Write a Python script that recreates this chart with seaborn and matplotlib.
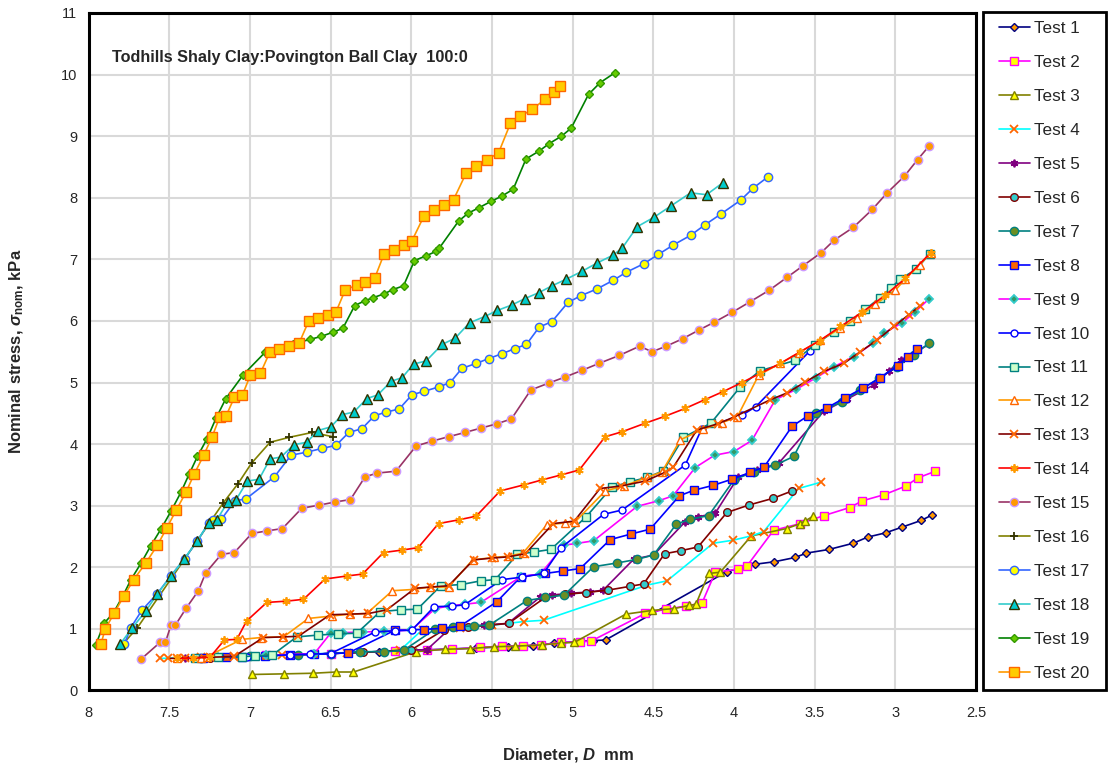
import pandas as pd
import seaborn as sns
import matplotlib.pyplot as plt
from matplotlib.patches import Rectangle

# Diameter D (mm) and nominal stress (kPa)
test1_d = [7.00, 6.60, 6.20, 5.90, 5.60, 5.40, 5.246, 5.116, 4.872, 4.796, 4.044, 3.868, 3.75, 3.62, 3.552, 3.411, 3.262, 3.172, 3.06, 2.961, 2.841, 2.772]
test1_s = [0.56, 0.59, 0.63, 0.66, 0.69, 0.71, 0.72, 0.77, 0.81, 0.82, 1.93, 2.05, 2.09, 2.16, 2.23, 2.29, 2.39, 2.49, 2.56, 2.65, 2.76, 2.85]

test2_d = [6.90, 6.50, 6.10, 5.90, 5.748, 5.571, 5.438, 5.308, 5.199, 5.075, 4.957, 4.887, 4.55, 4.42, 4.30, 4.198, 4.116, 3.978, 3.92, 3.755, 3.589, 3.442, 3.283, 3.204, 3.068, 2.934, 2.862, 2.752]
test2_s = [0.57, 0.60, 0.64, 0.66, 0.67, 0.70, 0.72, 0.73, 0.74, 0.78, 0.79, 0.80, 1.25, 1.32, 1.37, 1.42, 1.92, 1.97, 2.02, 2.60, 2.71, 2.84, 2.97, 3.08, 3.18, 3.32, 3.45, 3.56]

test3_d = [6.984, 6.788, 6.608, 6.467, 6.358, 5.97, 5.788, 5.639, 5.488, 5.356, 5.19, 5.075, 4.99, 4.67, 4.508, 4.372, 4.279, 4.236, 4.157, 4.085, 3.893, 3.672, 3.589, 3.56, 3.51]
test3_s = [0.26, 0.27, 0.28, 0.30, 0.30, 0.63, 0.67, 0.68, 0.71, 0.72, 0.74, 0.77, 0.78, 1.24, 1.30, 1.33, 1.38, 1.40, 1.90, 1.92, 2.51, 2.63, 2.71, 2.75, 2.83]

test4_d = [7.556, 7.45, 7.30, 7.10, 6.80, 6.40, 6.07, 5.93, 5.70, 5.50, 5.30, 5.18, 4.54, 4.415, 4.13, 4.006, 3.893, 3.816, 3.60, 3.463]
test4_s = [0.52, 0.53, 0.54, 0.56, 0.58, 0.61, 0.65, 0.99, 1.02, 1.06, 1.12, 1.14, 1.71, 1.78, 2.39, 2.44, 2.51, 2.58, 3.28, 3.38]

test5_d = [7.40, 7.25, 7.00, 6.60, 6.30, 6.00, 5.904, 5.75, 5.55, 5.40, 5.20, 5.128, 5.01, 4.89, 4.81, 4.622, 4.498, 4.302, 4.22, 4.116, 3.975, 3.857, 3.723, 3.445, 3.30, 3.134, 3.042, 2.965, 2.79]
test5_s = [0.53, 0.54, 0.56, 0.59, 0.62, 0.66, 0.66, 1.03, 1.06, 1.09, 1.52, 1.55, 1.58, 1.60, 1.63, 2.13, 2.20, 2.74, 2.82, 2.88, 3.46, 3.58, 3.69, 4.53, 4.73, 4.96, 5.18, 5.37, 5.62]

test6_d = [7.25, 7.00, 6.60, 6.30, 6.00, 5.80, 5.65, 5.515, 5.397, 5.17, 5.05, 4.918, 4.779, 4.647, 4.56, 4.43, 4.329, 4.223, 4.044, 3.909, 3.758, 3.64]
test6_s = [0.53, 0.56, 0.59, 0.62, 0.66, 0.98, 1.03, 1.06, 1.09, 1.51, 1.56, 1.59, 1.63, 1.69, 1.73, 2.22, 2.27, 2.33, 2.89, 3.01, 3.12, 3.24]

test7_d = [7.30, 7.00, 6.70, 6.50, 6.317, 6.168, 6.048, 5.85, 5.739, 5.614, 5.517, 5.283, 5.17, 5.052, 4.87, 4.725, 4.60, 4.498, 4.358, 4.271, 4.157, 4.00, 3.878, 3.744, 3.63, 3.49, 3.33, 3.217, 3.10, 2.99, 2.882, 2.793]
test7_s = [0.53, 0.56, 0.58, 0.60, 0.63, 0.63, 0.65, 1.00, 1.03, 1.05, 1.06, 1.46, 1.51, 1.55, 2.01, 2.07, 2.13, 2.20, 2.70, 2.78, 2.84, 3.42, 3.55, 3.66, 3.80, 4.50, 4.69, 4.88, 5.07, 5.26, 5.45, 5.64]

test8_d = [7.29, 7.15, 7.05, 6.906, 6.75, 6.60, 6.39, 6.10, 5.924, 5.81, 5.70, 5.47, 5.319, 5.17, 5.06, 4.953, 4.767, 4.639, 4.519, 4.339, 4.25, 4.13, 4.013, 3.90, 3.813, 3.64, 3.541, 3.424, 3.314, 3.20, 3.093, 2.986, 2.924, 2.866]
test8_s = [0.53, 0.54, 0.55, 0.56, 0.58, 0.59, 0.61, 0.98, 0.99, 1.01, 1.04, 1.44, 1.85, 1.90, 1.94, 1.98, 2.45, 2.54, 2.62, 3.16, 3.25, 3.33, 3.43, 3.54, 3.63, 4.29, 4.46, 4.59, 4.75, 4.91, 5.08, 5.27, 5.42, 5.54]

test9_d = [7.20, 6.90, 6.60, 6.50, 6.42, 6.296, 6.17, 6.00, 5.852, 5.769, 5.67, 5.569, 5.319, 5.20, 5.052, 4.97, 4.87, 4.60, 4.467, 4.378, 4.24, 4.12, 4.00, 3.889, 3.744, 3.614, 3.49, 3.378, 3.258, 3.138, 3.073, 2.958, 2.876, 2.791]
test9_s = [0.54, 0.57, 0.60, 0.93, 0.94, 0.95, 0.96, 0.98, 1.33, 1.37, 1.40, 1.43, 1.85, 1.89, 2.36, 2.39, 2.43, 2.99, 3.08, 3.16, 3.62, 3.82, 3.88, 4.06, 4.72, 4.89, 5.08, 5.26, 5.42, 5.64, 5.80, 5.97, 6.15, 6.36]

test10_d = [7.247, 7.185, 7.02, 6.75, 6.627, 6.50, 6.224, 6.10, 5.996, 5.858, 5.748, 5.67, 5.438, 5.314, 5.18, 5.071, 4.808, 4.694, 4.302, 4.20, 3.95, 3.864, 3.527]
test10_s = [0.55, 0.55, 0.55, 0.58, 0.59, 0.60, 0.95, 0.97, 0.98, 1.36, 1.37, 1.39, 1.80, 1.84, 1.90, 2.32, 2.86, 2.93, 3.66, 4.25, 4.47, 4.61, 5.52]

test11_d = [7.34, 7.20, 7.05, 6.968, 6.864, 6.71, 6.575, 6.451, 6.337, 6.193, 6.064, 5.962, 5.817, 5.69, 5.569, 5.48, 5.342, 5.238, 5.135, 4.916, 4.757, 4.643, 4.536, 4.437, 4.313, 4.143, 3.961, 3.84, 3.62, 3.50, 3.383, 3.279, 3.186, 3.093, 3.03, 2.969, 2.87, 2.787]
test11_s = [0.53, 0.54, 0.55, 0.56, 0.57, 0.87, 0.90, 0.92, 0.93, 1.28, 1.31, 1.32, 1.70, 1.72, 1.78, 1.80, 2.21, 2.25, 2.29, 2.82, 3.30, 3.39, 3.46, 3.57, 4.11, 4.34, 4.93, 5.19, 5.36, 5.61, 5.82, 6.00, 6.19, 6.38, 6.53, 6.68, 6.84, 7.09]

test12_d = [7.45, 7.30, 7.267, 7.05, 6.93, 6.792, 6.637, 6.49, 6.38, 6.275, 6.117, 5.99, 5.883, 5.769, 5.62, 5.49, 5.397, 5.308, 5.16, 5.046, 4.984, 4.798, 4.684, 4.536, 4.446, 4.333, 4.192, 4.074, 3.98, 3.847, 3.713, 3.60, 3.465, 3.34, 3.238, 3.124, 3.00, 2.938, 2.85, 2.78]
test12_s = [0.52, 0.53, 0.55, 0.83, 0.86, 0.87, 1.17, 1.21, 1.24, 1.25, 1.62, 1.64, 1.68, 1.68, 2.12, 2.16, 2.18, 2.23, 2.69, 2.72, 2.74, 3.24, 3.32, 3.46, 3.55, 4.07, 4.24, 4.35, 4.44, 5.12, 5.31, 5.48, 5.69, 5.88, 6.04, 6.27, 6.50, 6.68, 6.91, 7.11]

test13_d = [7.505, 7.40, 7.25, 7.10, 6.916, 6.792, 6.70, 6.503, 6.379, 6.265, 6.151, 5.976, 5.877, 5.769, 5.614, 5.50, 5.40, 5.294, 5.12, 4.99, 4.83, 4.70, 4.55, 4.42, 4.375, 4.23, 4.10, 4.00, 3.775, 3.672, 3.558, 3.445, 3.32, 3.217, 3.113, 3.01, 2.917, 2.845]
test13_s = [0.52, 0.53, 0.54, 0.55, 0.86, 0.87, 0.88, 1.23, 1.24, 1.25, 1.31, 1.66, 1.68, 1.70, 2.12, 2.15, 2.17, 2.22, 2.71, 2.75, 3.28, 3.32, 3.40, 3.55, 3.63, 4.23, 4.33, 4.44, 4.72, 4.83, 5.01, 5.18, 5.31, 5.50, 5.69, 5.91, 6.10, 6.25]

test14_d = [7.453, 7.35, 7.247, 7.158, 7.081, 7.02, 6.895, 6.776, 6.668, 6.534, 6.396, 6.302, 6.172, 6.056, 5.957, 5.831, 5.707, 5.598, 5.449, 5.30, 5.188, 5.071, 4.959, 4.798, 4.694, 4.55, 4.43, 4.302, 4.182, 4.07, 3.95, 3.837, 3.713, 3.589, 3.469, 3.34, 3.206, 3.062, 2.938, 2.78]
test14_s = [0.52, 0.53, 0.54, 0.82, 0.83, 1.13, 1.43, 1.45, 1.48, 1.81, 1.86, 1.89, 2.24, 2.28, 2.32, 2.71, 2.77, 2.83, 3.24, 3.34, 3.42, 3.50, 3.58, 4.12, 4.20, 4.34, 4.45, 4.58, 4.72, 4.85, 5.00, 5.15, 5.31, 5.50, 5.68, 5.91, 6.14, 6.42, 6.69, 7.11]

test15_d = [7.674, 7.557, 7.524, 7.489, 7.462, 7.394, 7.319, 7.274, 7.177, 7.096, 6.988, 6.895, 6.798, 6.678, 6.569, 6.473, 6.377, 6.286, 6.21, 6.095, 5.970, 5.869, 5.769, 5.666, 5.569, 5.469, 5.379, 5.259, 5.149, 5.046, 4.94, 4.837, 4.711, 4.585, 4.508, 4.420, 4.319, 4.219, 4.122, 4.011, 3.901, 3.781, 3.67, 3.57, 3.459, 3.38, 3.26, 3.143, 3.051, 2.944, 2.862, 2.791]
test15_s = [0.51, 0.78, 0.78, 1.06, 1.06, 1.34, 1.62, 1.91, 2.21, 2.24, 2.55, 2.59, 2.63, 2.96, 3.01, 3.06, 3.10, 3.47, 3.53, 3.56, 3.97, 4.05, 4.12, 4.19, 4.26, 4.33, 4.41, 4.88, 4.99, 5.09, 5.20, 5.31, 5.44, 5.59, 5.50, 5.59, 5.71, 5.85, 5.98, 6.14, 6.31, 6.50, 6.71, 6.90, 7.11, 7.31, 7.52, 7.81, 8.08, 8.35, 8.62, 8.84]

test16_d = [7.788, 7.697, 7.164, 7.073, 6.99, 6.875, 6.757, 6.613, 6.486]
test16_s = [0.75, 1.02, 3.05, 3.36, 3.69, 4.03, 4.11, 4.19, 4.12]

test17_d = [7.778, 7.738, 7.670, 7.575, 7.49, 7.405, 7.325, 7.255, 7.226, 7.177, 7.092, 7.025, 6.848, 6.745, 6.647, 6.554, 6.466, 6.387, 6.306, 6.228, 6.157, 6.075, 5.996, 5.918, 5.827, 5.759, 5.686, 5.598, 5.519, 5.436, 5.358, 5.286, 5.207, 5.128, 5.029, 4.949, 4.849, 4.748, 4.668, 4.558, 4.469, 4.378, 4.269, 4.180, 4.079, 3.959, 3.880, 3.789]
test17_s = [0.75, 1.02, 1.30, 1.57, 1.86, 2.14, 2.43, 2.72, 2.76, 2.78, 3.08, 3.11, 3.47, 3.82, 3.87, 3.93, 3.98, 4.19, 4.25, 4.46, 4.52, 4.57, 4.80, 4.86, 4.93, 5.00, 5.23, 5.31, 5.39, 5.47, 5.55, 5.62, 5.90, 5.99, 6.30, 6.41, 6.52, 6.66, 6.79, 6.93, 7.08, 7.23, 7.39, 7.56, 7.74, 7.96, 8.16, 8.34]

test18_d = [7.805, 7.728, 7.645, 7.573, 7.489, 7.406, 7.326, 7.255, 7.205, 7.137, 7.087, 7.016, 6.943, 6.875, 6.807, 6.728, 6.647, 6.579, 6.498, 6.427, 6.356, 6.275, 6.207, 6.125, 6.056, 5.986, 5.908, 5.808, 5.728, 5.639, 5.546, 5.467, 5.376, 5.298, 5.209, 5.128, 5.038, 4.939, 4.849, 4.748, 4.691, 4.60, 4.498, 4.389, 4.269, 4.17, 4.071]
test18_s = [0.75, 1.02, 1.29, 1.57, 1.86, 2.14, 2.43, 2.72, 2.77, 3.06, 3.09, 3.40, 3.43, 3.76, 3.79, 3.99, 4.03, 4.22, 4.28, 4.48, 4.52, 4.74, 4.80, 5.02, 5.08, 5.30, 5.35, 5.62, 5.72, 5.97, 6.07, 6.17, 6.26, 6.36, 6.46, 6.57, 6.68, 6.81, 6.94, 7.07, 7.19, 7.53, 7.68, 7.87, 8.08, 8.05, 8.24]

test19_d = [7.955, 7.904, 7.846, 7.788, 7.737, 7.674, 7.614, 7.549, 7.487, 7.427, 7.377, 7.325, 7.265, 7.21, 7.149, 7.04, 6.906, 6.831, 6.733, 6.627, 6.557, 6.482, 6.424, 6.350, 6.286, 6.234, 6.168, 6.114, 6.048, 5.980, 5.906, 5.846, 5.827, 5.707, 5.647, 5.579, 5.507, 5.436, 5.368, 5.289, 5.207, 5.145, 5.069, 5.009, 4.901, 4.829, 4.738]
test19_s = [0.74, 1.09, 1.26, 1.53, 1.80, 2.07, 2.35, 2.63, 2.92, 3.22, 3.51, 3.80, 4.09, 4.42, 4.74, 5.13, 5.49, 5.54, 5.63, 5.70, 5.75, 5.82, 5.88, 6.25, 6.33, 6.38, 6.44, 6.51, 6.57, 6.98, 7.06, 7.13, 7.18, 7.62, 7.75, 7.84, 7.94, 8.03, 8.14, 8.63, 8.76, 8.88, 9.00, 9.13, 9.68, 9.87, 10.03]

test20_d = [7.924, 7.896, 7.84, 7.782, 7.72, 7.645, 7.573, 7.515, 7.456, 7.396, 7.344, 7.286, 7.234, 7.187, 7.149, 7.096, 7.046, 6.997, 6.935, 6.877, 6.817, 6.755, 6.695, 6.635, 6.575, 6.517, 6.466, 6.408, 6.335, 6.284, 6.226, 6.168, 6.106, 6.048, 5.996, 5.92, 5.856, 5.796, 5.738, 5.658, 5.596, 5.528, 5.459, 5.385, 5.325, 5.249, 5.170, 5.118, 5.077]
test20_s = [0.75, 1.00, 1.26, 1.53, 1.80, 2.07, 2.36, 2.64, 2.93, 3.22, 3.52, 3.82, 4.12, 4.44, 4.45, 4.76, 4.80, 5.12, 5.15, 5.49, 5.54, 5.59, 5.64, 6.00, 6.04, 6.10, 6.15, 6.51, 6.58, 6.64, 6.70, 7.09, 7.16, 7.24, 7.30, 7.71, 7.80, 7.89, 7.97, 8.41, 8.52, 8.62, 8.73, 9.21, 9.32, 9.44, 9.60, 9.71, 9.81]

x_ticks = [8, 7.5, 7, 6.5, 6, 5.5, 5, 4.5, 4, 3.5, 3, 2.5]
x_tick_labels = ['8', '7.5', '7', '6.5', '6', '5.5', '5', '4.5', '4', '3.5', '3', '2.5']
y_ticks = list(range(0, 12))

series = [
    ('Test 1', test1_d, test1_s), ('Test 2', test2_d, test2_s), ('Test 3', test3_d, test3_s),
    ('Test 4', test4_d, test4_s), ('Test 5', test5_d, test5_s), ('Test 6', test6_d, test6_s),
    ('Test 7', test7_d, test7_s), ('Test 8', test8_d, test8_s), ('Test 9', test9_d, test9_s),
    ('Test 10', test10_d, test10_s), ('Test 11', test11_d, test11_s), ('Test 12', test12_d, test12_s),
    ('Test 13', test13_d, test13_s), ('Test 14', test14_d, test14_s), ('Test 15', test15_d, test15_s),
    ('Test 16', test16_d, test16_s), ('Test 17', test17_d, test17_s), ('Test 18', test18_d, test18_s),
    ('Test 19', test19_d, test19_s), ('Test 20', test20_d, test20_s),
]

# Excel-like line / marker styles: (line colour, marker, size, face, edge, edge width)
asterisk = (6, 2, 0)
styles = {
    'Test 1': ('#000080', 'D', 4.0, '#FF9900', '#000080', 1.0),
    'Test 2': ('#FF00FF', 's', 5.5, '#FFFF00', '#FF00FF', 1.0),
    'Test 3': ('#808000', '^', 6.0, '#FFFF00', '#808000', 1.0),
    'Test 4': ('#00FFFF', 'x', 5.5, '#FF6600', '#FF6600', 1.3),
    'Test 5': ('#800080', asterisk, 5.5, '#800080', '#800080', 1.3),
    'Test 6': ('#800000', 'o', 5.5, '#33CCCC', '#800000', 1.0),
    'Test 7': ('#008080', 'o', 6.0, '#6B8E23', '#008080', 1.0),
    'Test 8': ('#0000FF', 's', 5.5, '#FF6600', '#0000FF', 1.0),
    'Test 9': ('#FF00FF', 'D', 4.5, '#339966', '#33CCCC', 1.3),
    'Test 10': ('#0000FF', 'o', 5.0, '#FFFFFF', '#0000FF', 1.0),
    'Test 11': ('#008080', 's', 6.0, '#CCFFCC', '#008080', 1.0),
    'Test 12': ('#FF9900', '^', 6.0, '#FFFFFF', '#FF6600', 1.0),
    'Test 13': ('#800000', 'x', 5.5, '#FF6600', '#FF6600', 1.3),
    'Test 14': ('#FF0000', asterisk, 6.0, '#FF9900', '#FF9900', 1.3),
    'Test 15': ('#993366', 'o', 6.0, '#FF9900', '#CC99FF', 1.0),
    'Test 16': ('#808000', '+', 6.0, '#333300', '#333300', 1.3),
    'Test 17': ('#3366FF', 'o', 6.0, '#FFFF00', '#3366FF', 1.0),
    'Test 18': ('#33CCCC', '^', 6.5, '#00CCCC', '#333300', 1.0),
    'Test 19': ('#008000', 'D', 4.5, '#66CC00', '#339900', 1.0),
    'Test 20': ('#FF9900', 's', 7.0, '#FFCC00', '#FF6600', 1.0),
}

sns.set_style('white')
plt.rcParams['font.family'] = ['Liberation Sans', 'DejaVu Sans']
plt.rcParams['mathtext.fontset'] = 'custom'
plt.rcParams['mathtext.rm'] = 'Liberation Sans:bold'
plt.rcParams['mathtext.it'] = 'Liberation Sans:bold:italic'
plt.rcParams['mathtext.bf'] = 'Liberation Sans:bold'

fig = plt.figure(figsize=(11.08, 7.69), dpi=100)
ax = fig.add_axes([0.0799, 0.1021, 0.801, 0.881])

for name, d, s in series:
    color, marker, ms, face, edge, mew = styles[name]
    df = pd.DataFrame({'Diameter': d, 'Stress': s})
    sns.lineplot(data=df, x='Diameter', y='Stress', ax=ax, sort=False, estimator=None,
                 color=color, linewidth=1.2, marker=marker, markersize=ms,
                 markerfacecolor=face, markeredgecolor=edge, markeredgewidth=mew,
                 label=name)

ax.set_xlim(8, 2.5)
ax.set_ylim(0, 11)
ax.set_xticks(x_ticks)
ax.set_xticklabels(x_tick_labels)
ax.set_yticks(y_ticks)
ax.tick_params(axis='x', direction='out', length=5, width=1.5, labelsize=10.5, pad=6)
ax.tick_params(axis='y', direction='in', length=5, width=1.5, labelsize=10.5, pad=8)
ax.grid(True, color='#D9D9D9', linewidth=1.5)
ax.set_axisbelow(True)
for sp in ax.spines.values():
    sp.set_color('black')
    sp.set_linewidth(2.2)

ax.set_xlabel(r'Diameter, $D$  mm', fontsize=12, fontweight='bold')
ax.set_ylabel(r'Nominal stress, $\sigma_{\rm nom}$, kPa', fontsize=12, fontweight='bold')
ax.xaxis.set_label_coords(0.54, -0.082)
ax.yaxis.set_label_coords(-0.070, 0.5)

ax.text(0.026, 0.935, 'Todhills Shaly Clay:Povington Ball Clay  100:0',
        transform=ax.transAxes, fontsize=11.7, fontweight='bold', va='center', ha='left')

# legend: frame drawn as its own box spanning the plot height
handles, labels = ax.get_legend_handles_labels()
if ax.get_legend() is not None:
    ax.get_legend().remove()
fig.add_artist(Rectangle((983 / 1108, 1 - 690 / 769), (1106 - 983) / 1108, (690 - 12) / 769,
                         transform=fig.transFigure, fill=False, edgecolor='black', linewidth=2))
fig.legend(handles, labels, loc='center left', bbox_to_anchor=(999 / 1108, 1 - 351 / 769),
           frameon=False, fontsize=12.3, handlelength=1.81, handletextpad=0.23,
           labelspacing=1.11, borderpad=0, borderaxespad=0)

fig.savefig('out.png', dpi=100)
